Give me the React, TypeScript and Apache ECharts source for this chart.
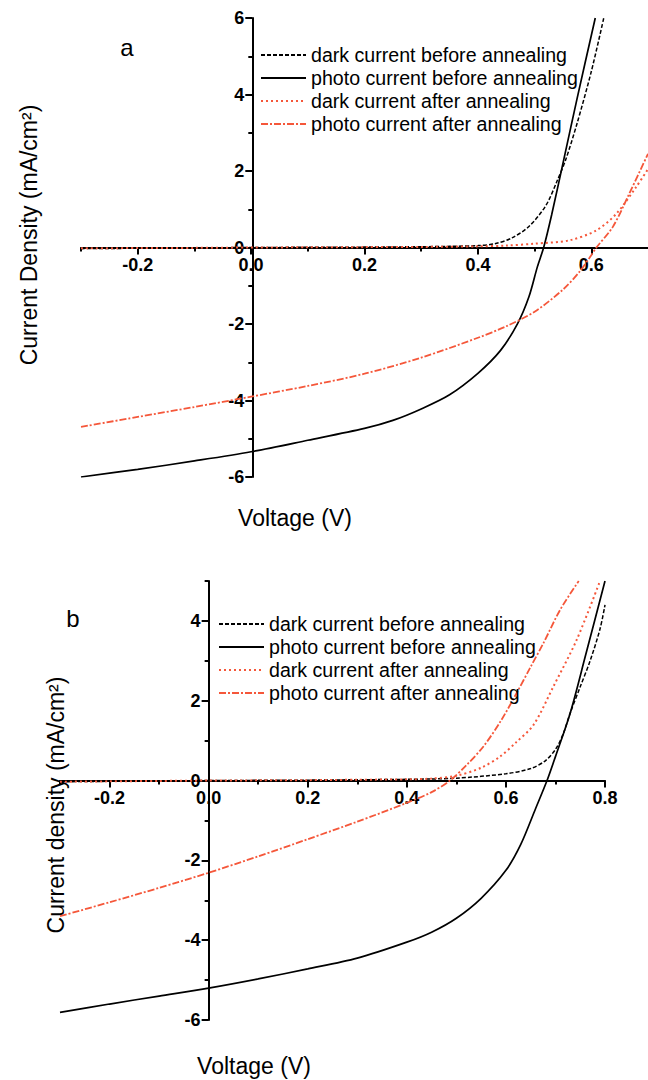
import React, { useEffect, useRef } from "react";
import * as echarts from "echarts";

const seriesNames = [
  "dark current before annealing",
  "photo current before annealing",
  "dark current after annealing",
  "photo current after annealing",
];

// Panel a
const aDarkBeforeV = [-0.3, -0.2, -0.1, 0, 0.1, 0.2, 0.3, 0.35, 0.4, 0.43, 0.46, 0.49, 0.52, 0.54, 0.555, 0.575, 0.6, 0.622];
const aDarkBeforeJ = [-0.03, -0.02, -0.01, 0, 0.005, 0.01, 0.02, 0.03, 0.05, 0.1, 0.25, 0.55, 1.1, 1.75, 2.3, 3.25, 4.6, 6.0];
const aPhotoBeforeV = [-0.3, -0.2, -0.1, 0, 0.1, 0.2, 0.25, 0.3, 0.35, 0.4, 0.44, 0.47, 0.49, 0.505, 0.516, 0.53, 0.55, 0.575, 0.607];
const aPhotoBeforeJ = [-6.0, -5.8, -5.58, -5.34, -5.04, -4.73, -4.52, -4.22, -3.85, -3.29, -2.69, -1.99, -1.29, -0.5, 0, 0.85, 2.2, 3.9, 6.0];
const aDarkAfterV = [-0.3, -0.2, -0.1, 0, 0.1, 0.2, 0.3, 0.4, 0.45, 0.5, 0.562, 0.609, 0.644, 0.679, 0.7];
const aDarkAfterJ = [-0.02, -0.015, -0.01, 0, 0.005, 0.01, 0.015, 0.03, 0.05, 0.1, 0.19, 0.45, 0.88, 1.58, 2.05];
const aPhotoAfterV = [-0.3, -0.2, -0.1, 0, 0.1, 0.2, 0.3, 0.4, 0.45, 0.5, 0.55, 0.58, 0.6, 0.609, 0.638, 0.667, 0.7];
const aPhotoAfterJ = [-4.69, -4.43, -4.17, -3.9, -3.62, -3.3, -2.88, -2.36, -2.06, -1.68, -1.1, -0.62, -0.2, 0, 0.54, 1.41, 2.45];

// Panel b
const bDarkBeforeV = [-0.3, -0.2, -0.1, 0, 0.1, 0.2, 0.3, 0.4, 0.5, 0.6, 0.65, 0.68, 0.7, 0.715, 0.73, 0.75, 0.77, 0.79, 0.8];
const bDarkBeforeJ = [-0.03, -0.02, -0.01, 0, 0.005, 0.01, 0.02, 0.03, 0.06, 0.17, 0.3, 0.5, 0.78, 1.15, 1.7, 2.35, 3.0, 3.8, 4.4];
const bPhotoBeforeV = [-0.3, -0.2, -0.1, 0, 0.1, 0.2, 0.3, 0.4, 0.45, 0.5, 0.55, 0.6, 0.63, 0.66, 0.683, 0.7, 0.73, 0.76, 0.8];
const bPhotoBeforeJ = [-5.81, -5.6, -5.4, -5.2, -4.97, -4.72, -4.45, -4.05, -3.8, -3.45, -2.95, -2.25, -1.6, -0.7, 0, 0.6, 1.7, 3.1, 5.0];
const bDarkAfterV = [-0.3, -0.2, -0.1, 0, 0.1, 0.2, 0.3, 0.4, 0.45, 0.5, 0.55, 0.588, 0.62, 0.656, 0.696, 0.743, 0.79];
const bDarkAfterJ = [-0.03, -0.02, -0.01, 0, 0.005, 0.01, 0.02, 0.03, 0.05, 0.12, 0.32, 0.6, 0.95, 1.4, 2.36, 3.53, 5.0];
const bPhotoAfterV = [-0.3, -0.2, -0.1, 0, 0.1, 0.2, 0.3, 0.4, 0.45, 0.487, 0.52, 0.555, 0.59, 0.622, 0.65, 0.676, 0.71, 0.747];
const bPhotoAfterJ = [-3.4, -3.05, -2.69, -2.31, -1.9, -1.47, -1.03, -0.56, -0.29, 0, 0.38, 0.86, 1.5, 2.2, 2.85, 3.45, 4.29, 5.0];

// Ticks
const aXMajor = [-0.2, 0, 0.2, 0.4, 0.6];
const aXMinor = [-0.3, -0.1, 0.1, 0.3, 0.5];
const aYMajor = [-6, -4, -2, 0, 2, 4, 6];
const aYMinor = [-5, -3, -1, 1, 3, 5];
const bXMajor = [-0.2, 0, 0.2, 0.4, 0.6, 0.8];
const bXMinor = [-0.3, -0.1, 0.1, 0.3, 0.5, 0.7];
const bYMajor = [-6, -4, -2, 0, 2, 4];
const bYMinor = [-5, -3, -1, 1, 3, 5];

const ORANGE = "#f5573a";
const FONT = "'Liberation Sans', Arial, sans-serif";

const zip = (xs: number[], ys: number[]) => xs.map((x, i) => [x, ys[i]]);

const lineStyles = [
  { color: "#000", type: [4, 2], width: 1.5 },
  { color: "#000", type: "solid", width: 1.7 },
  { color: ORANGE, type: [2, 3], width: 2 },
  { color: ORANGE, type: [7, 2, 2, 2], width: 1.8 },
];

type Panel = {
  left: number;
  top: number;
  width: number;
  height: number;
  xMin: number;
  xMax: number;
  yMin: number;
  yMax: number;
  xMajor: number[];
  xMinor: number[];
  yMajor: number[];
  yMinor: number[];
  data: number[][][];
};

const panels: Panel[] = [
  {
    left: 81, top: 18, width: 571, height: 459,
    xMin: -0.3, xMax: 0.7, yMin: -6, yMax: 6,
    xMajor: aXMajor, xMinor: aXMinor, yMajor: aYMajor, yMinor: aYMinor,
    data: [
      zip(aDarkBeforeV, aDarkBeforeJ),
      zip(aPhotoBeforeV, aPhotoBeforeJ),
      zip(aDarkAfterV, aDarkAfterJ),
      zip(aPhotoAfterV, aPhotoAfterJ),
    ],
  },
  {
    left: 60, top: 581, width: 545, height: 439,
    xMin: -0.3, xMax: 0.8, yMin: -6, yMax: 5,
    xMajor: bXMajor, xMinor: bXMinor, yMajor: bYMajor, yMinor: bYMinor,
    data: [
      zip(bDarkBeforeV, bDarkBeforeJ),
      zip(bPhotoBeforeV, bPhotoBeforeJ),
      zip(bDarkAfterV, bDarkAfterJ),
      zip(bPhotoAfterV, bPhotoAfterJ),
    ],
  },
];

const grids: any[] = [];
const xAxes: any[] = [];
const yAxes: any[] = [];
const series: any[] = [];

const axisLineStyle = { color: "#000", width: 2 };
const labelStyle = {
  color: "#000",
  fontSize: 18,
  fontWeight: "bold",
  fontFamily: FONT,
  margin: 8,
};
const hidden = (grid: number, min: number, max: number) => ({
  gridIndex: grid,
  type: "value",
  show: false,
  min,
  max,
  axisLine: { onZero: false },
  splitLine: { show: false },
});

panels.forEach((p) => {
  const g0 = grids.length;
  const zeroX = p.left + ((0 - p.xMin) / (p.xMax - p.xMin)) * p.width;
  const zeroY = p.top + ((p.yMax - 0) / (p.yMax - p.yMin)) * p.height;
  // data grid, y-axis grid (left edge at x = 0), x-axis grid (bottom edge at y = 0)
  grids.push({ left: p.left, top: p.top, width: p.width, height: p.height });
  grids.push({ left: zeroX, top: p.top, width: 10, height: p.height });
  grids.push({ left: p.left, top: p.top, width: p.width, height: zeroY - p.top });

  const xi = xAxes.length;
  const yi = yAxes.length;

  xAxes.push(hidden(g0, p.xMin, p.xMax));
  xAxes.push(hidden(g0 + 1, 0, 1));
  xAxes.push({
    gridIndex: g0 + 2,
    type: "value",
    position: "bottom",
    min: p.xMin,
    max: p.xMax,
    splitLine: { show: false },
    axisLine: { show: true, onZero: false, lineStyle: axisLineStyle },
    axisTick: { show: true, customValues: p.xMajor, length: 7, lineStyle: axisLineStyle },
    axisLabel: { show: true, customValues: p.xMajor, formatter: (v: number) => v.toFixed(1), ...labelStyle },
  });
  xAxes.push({
    gridIndex: g0 + 2,
    type: "value",
    position: "bottom",
    min: p.xMin,
    max: p.xMax,
    splitLine: { show: false },
    axisLine: { show: false, onZero: false },
    axisTick: { show: true, customValues: p.xMinor, length: 4, lineStyle: axisLineStyle },
    axisLabel: { show: false },
  });

  yAxes.push(hidden(g0, p.yMin, p.yMax));
  yAxes.push({
    gridIndex: g0 + 1,
    type: "value",
    position: "left",
    min: p.yMin,
    max: p.yMax,
    splitLine: { show: false },
    axisLine: { show: true, onZero: false, lineStyle: axisLineStyle },
    axisTick: { show: true, customValues: p.yMajor, length: 7, lineStyle: axisLineStyle },
    axisLabel: { show: true, customValues: p.yMajor, formatter: (v: number) => String(v), ...labelStyle },
  });
  yAxes.push({
    gridIndex: g0 + 1,
    type: "value",
    position: "left",
    min: p.yMin,
    max: p.yMax,
    splitLine: { show: false },
    axisLine: { show: false, onZero: false },
    axisTick: { show: true, customValues: p.yMinor, length: 4, lineStyle: axisLineStyle },
    axisLabel: { show: false },
  });
  yAxes.push(hidden(g0 + 2, 0, 1));

  p.data.forEach((d, i) =>
    series.push({
      type: "line",
      name: seriesNames[i],
      xAxisIndex: xi,
      yAxisIndex: yi,
      data: d,
      smooth: 0.3,
      symbol: "none",
      lineStyle: lineStyles[i],
      itemStyle: { color: lineStyles[i].color },
      z: 3,
    })
  );
});

const legendCommon = {
  orient: "vertical",
  padding: 0,
  itemWidth: 45,
  itemHeight: 14,
  itemGap: 3,
  data: seriesNames,
  selectedMode: false,
  itemStyle: { opacity: 0, borderWidth: 0 },
  textStyle: { fontSize: 19.6, color: "#000", fontFamily: FONT, lineHeight: 20 },
};

const textEl = (text: string, x: number, y: number, size: number, rotation = 0) => ({
  type: "text",
  x,
  y,
  rotation,
  style: {
    text,
    fontSize: size,
    fontFamily: FONT,
    fill: "#000",
    align: "center",
    verticalAlign: "middle",
  },
});

const option: any = {
  animation: false,
  backgroundColor: "#fff",
  grid: grids,
  xAxis: xAxes,
  yAxis: yAxes,
  legend: [
    { ...legendCommon, left: 260, top: 45 },
    { ...legendCommon, left: 218, top: 614 },
  ],
  series,
  graphic: [
    textEl("a", 127, 47, 24),
    textEl("b", 73, 618, 24),
    textEl("Voltage (V)", 295, 518, 23),
    textEl("Voltage (V)", 254, 1066, 23),
    textEl("Current Density (mA/cm²)", 29, 235, 23, Math.PI / 2),
    textEl("Current density (mA/cm²)", 56, 805, 23, Math.PI / 2),
  ],
};

export default function App() {
  const ref = useRef<HTMLDivElement>(null);
  useEffect(() => {
    document.body.style.margin = "0";
    const chart = echarts.init(ref.current!, null, { renderer: "svg" });
    chart.setOption(option);
    return () => chart.dispose();
  }, []);
  return <div ref={ref} style={{ width: 648, height: 1080, overflow: "hidden" }} />;
}
